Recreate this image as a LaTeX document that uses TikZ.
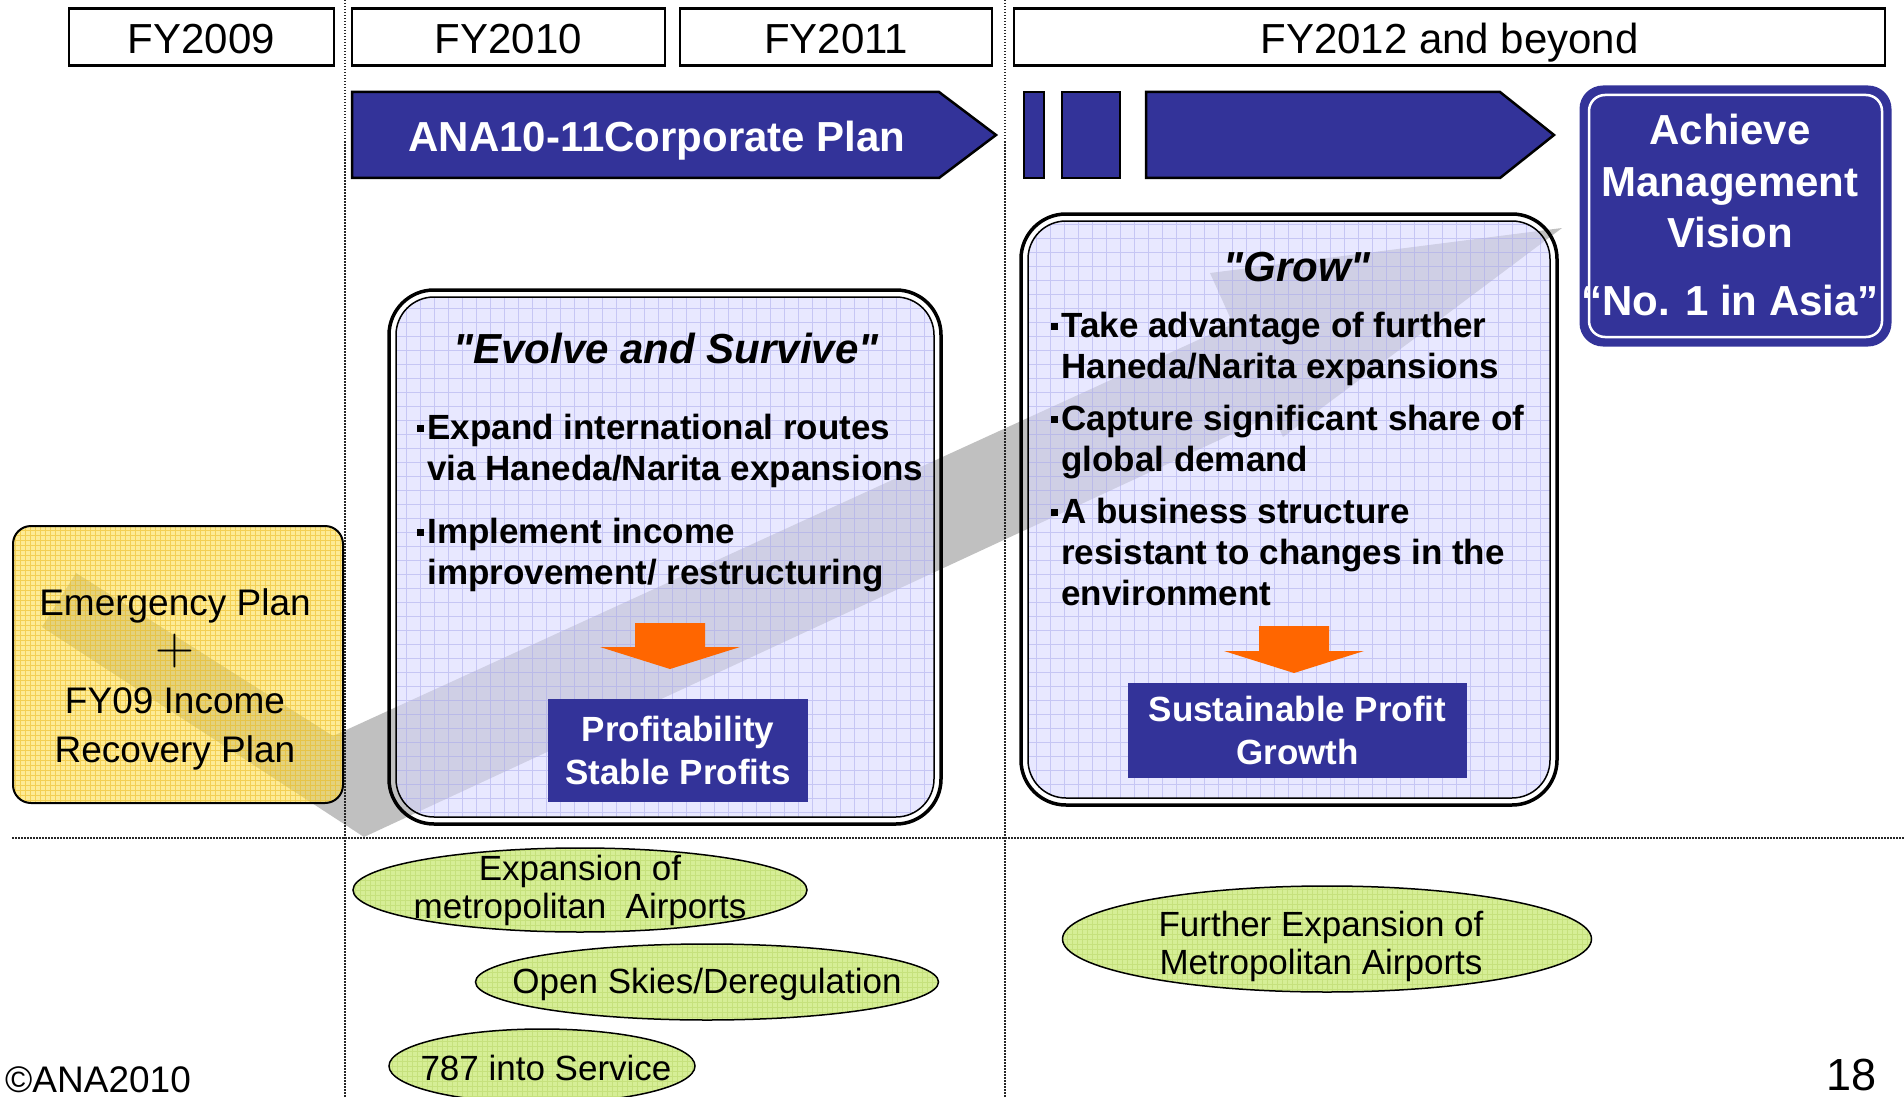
\documentclass[tikz,border=0pt]{standalone}
\usepackage{fontspec}
\setmainfont{Liberation Sans}
\usetikzlibrary{positioning,shapes.geometric}

\definecolor{anablue}{RGB}{51,51,153}
\definecolor{lavfill}{RGB}{217,217,255}
\definecolor{lavgrid}{RGB}{170,170,235}
\definecolor{plangold}{RGB}{252,222,80}
\definecolor{goldgrid}{RGB}{235,185,30}
\definecolor{limefill}{RGB}{214,238,150}
\definecolor{limegrid}{RGB}{185,215,105}
\definecolor{bandgray}{RGB}{192,192,192}
\definecolor{arroworange}{RGB}{255,102,0}

\newcommand\sqbullet{\rule[0.22em]{0.19em}{0.19em}\hspace{0.1em}}
\newcommand\bulletindent{\hspace*{0.29em}}

\tikzset{
  gridfill/.style 2 args={path picture={
      \draw[#1, line width=0.7, draw opacity=0.55]
        (path picture bounding box.south west) grid[step=#2]
        (path picture bounding box.north east);}},
  yearbox/.style={draw, line width=2.5, fill=white, minimum height=57,
    inner sep=0, text height=34, text depth=0,
    font=\fontsize{42}{50}\selectfont},
  planarrow/.style={draw, line width=2.5, fill=anablue},
  whitebig/.style={text=white, inner sep=0,
    font=\fontsize{42}{51.5}\selectfont\bfseries},
  outerframe/.style={line width=3.5, rounded corners=45},
  innerframe/.style={line width=1.5, rounded corners=38, fill=lavfill,
    fill opacity=0.6, gridfill={lavgrid}{14pt}},
  titletext/.style={inner sep=0, font=\fontsize{42}{50}\selectfont\bfseries\itshape},
  bulletlist/.style={anchor=west, align=left, inner sep=0,
    font=\fontsize{35}{41}\selectfont\bfseries},
  bluebox/.style={fill=anablue, text=white, align=center, inner sep=0,
    font=\fontsize{35}{43}\selectfont\bfseries},
  goalellipse/.style={ellipse, draw, line width=1.5, fill=limefill,
    inner sep=0, gridfill={limegrid}{5pt}},
  goaltext/.style={align=center, inner sep=0, font=\fontsize{35}{38}\selectfont},
  sepline/.style={line width=1.2, dash pattern=on 1.5pt off 1.5pt, black!85},
  downarrow/.style={fill=arroworange}
}

\begin{document}
\begin{tikzpicture}[x=1pt, y=-1pt]
\useasboundingbox (0,0) rectangle (1904,1097);

% gray progress band running under the boxes
\fill[bandgray] (76,573) -- (333,736) -- (1233,324) -- (1210,273) -- (1562,228)
  -- (1283,437) -- (1273,415) -- (364,837) -- (42,627) -- cycle;

% period separators
\draw[sepline] (345,0) -- (345,1097)
               (1005,0) -- (1005,1097)
               (12,838) -- (1904,838);

% fiscal years
\node[yearbox, minimum width=265] (fy09) at (201.5,37) {FY2009};
\node[yearbox, minimum width=313] (fy10) at (508.5,37) {FY2010};
\node[yearbox, minimum width=312] (fy11) at (836,37) {FY2011};
\node[yearbox, minimum width=871] (fy12) at (1449.5,37) {FY2012 and beyond};

% corporate plan arrows
\draw[planarrow] (352,92) -- (939,92) -- (996,135) -- (939,178) -- (352,178) -- cycle;
\node[whitebig] (plan) at (657,141) {ANA10-11Corporate Plan};
\draw[planarrow] (1024,92) rectangle (1044,178)
                 (1062,92) rectangle (1120,178);
\draw[planarrow] (1146,92) -- (1500,92) -- (1554,135) -- (1500,178) -- (1146,178) -- cycle;

% management vision
\draw[anablue, fill=anablue, line width=3, rounded corners=22] (1581,87) rectangle (1890,345);
\draw[white, line width=2.5, rounded corners=16] (1589,95) rectangle (1882,337);
\node[whitebig, align=center] (vision) at (1730,215)
  {Achieve\\Management\\Vision\\[16pt]“No. 1 in Asia”};

% FY2009 emergency plan
\draw[line width=2, rounded corners=18, fill=plangold, fill opacity=0.6,
      gridfill={goldgrid}{5pt}] (13,526) rectangle (343,803);
\node[align=center, inner sep=0, font=\fontsize{37}{49}\selectfont] (emergency) at (175,679)
  {Emergency Plan\\{\fontfamily{lmr}\fontsize{54}{49}\selectfont +}\\FY09 Income\\Recovery Plan};

% evolve and survive
\draw[outerframe] (389,290) rectangle (941,824);
\draw[innerframe] (396,297) rectangle (934,817);
\node[titletext] (evolve) at (666,348) {\textquotedbl Evolve and Survive\textquotedbl};
\node[bulletlist] (evolvelist) at (417,503)
  {\sqbullet Expand international routes\\
   \bulletindent via Haneda/Narita expansions\\[22pt]
   \sqbullet Implement income\\
   \bulletindent improvement/ restructuring};
\fill[downarrow] (635,623) -- (705,623) -- (705,647) -- (740,647) -- (670,669)
  -- (600,647) -- (635,647) -- cycle;
\node[bluebox, minimum width=260, minimum height=103] (profit) at (678,750.5)
  {Profitability\\Stable Profits};

% grow
\draw[outerframe] (1021,214) rectangle (1557,805);
\draw[innerframe] (1028,221) rectangle (1550,798);
\node[titletext] (grow) at (1297,267) {\textquotedbl Grow\textquotedbl};
\node[bulletlist] (growlist) at (1051,459)
  {\sqbullet Take advantage of further\\
   \bulletindent Haneda/Narita expansions\\[11pt]
   \sqbullet Capture significant share of\\
   \bulletindent global demand\\[11pt]
   \sqbullet A business structure\\
   \bulletindent resistant to changes in the\\
   \bulletindent environment};
\fill[downarrow] (1259,626) -- (1329,626) -- (1329,651) -- (1364,651) -- (1294,673)
  -- (1224,651) -- (1259,651) -- cycle;
\node[bluebox, minimum width=339, minimum height=95] (sustain) at (1297.5,730.5)
  {Sustainable Profit\\Growth};

% outside factors
\node[goalellipse, minimum width=454, minimum height=84] (airports) at (580,890) {};
\node[goaltext] (airportstext) at (airports) {Expansion of\\metropolitan~ Airports};
\node[goalellipse, minimum width=463, minimum height=76] (skies) at (707,982) {};
\node[goaltext] (skiestext) at (707,984) {Open Skies/Deregulation};
\node[goalellipse, minimum width=306, minimum height=74] (b787) at (542,1066) {};
\node[goaltext] (b787text) at (546,1068) {787 into Service};
\node[goalellipse, minimum width=529, minimum height=106] (further) at (1327,939) {};
\node[goaltext] (furthertext) at (1321,946) {Further Expansion of\\Metropolitan Airports};

% footer
\node[anchor=base west, inner sep=0, font=\fontsize{37}{40}\selectfont] (copy) at (5,1092) {©ANA2010};
\node[anchor=base east, inner sep=0, font=\fontsize{45}{50}\selectfont] (page) at (1877,1090) {18};
\end{tikzpicture}
\end{document}
